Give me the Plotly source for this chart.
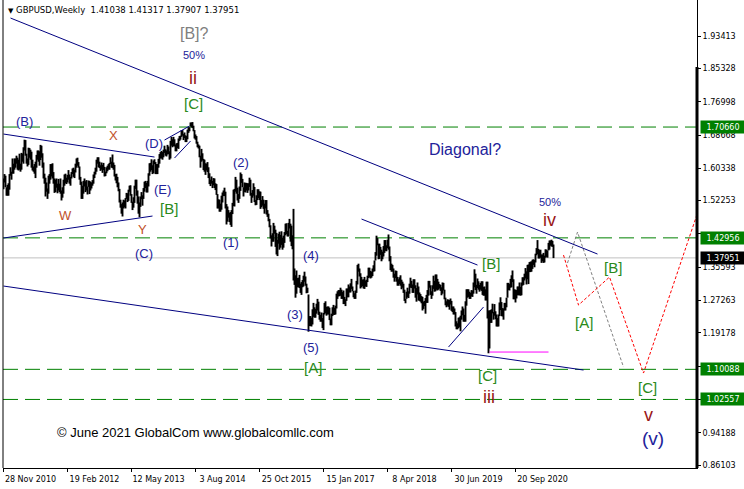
import pandas as pd
import plotly.graph_objects as go

START = pd.Timestamp("2010-11-28")


def wk(i):
    return START + pd.Timedelta(weeks=i)


# ---- weekly GBPUSD bars (low / high), one list per calendar year ----
lo_2010 = [1.551, 1.568, 1.556, 1.535, 1.535]
hi_2010 = [1.578, 1.589, 1.585, 1.556, 1.562]

lo_2011 = [1.535, 1.550, 1.585, 1.575, 1.590, 1.590, 1.600, 1.605, 1.615, 1.600, 1.598, 1.600, 1.595,
           1.600, 1.620, 1.615, 1.648, 1.635, 1.615, 1.608, 1.612, 1.630, 1.625, 1.605, 1.598, 1.595,
           1.590, 1.579, 1.605, 1.625, 1.620, 1.610, 1.624, 1.630, 1.605, 1.578, 1.565, 1.533, 1.545,
           1.527, 1.540, 1.565, 1.575, 1.583, 1.578, 1.565, 1.542, 1.544, 1.555, 1.541, 1.548, 1.544]
hi_2011 = [1.566, 1.589, 1.606, 1.595, 1.628, 1.615, 1.628, 1.628, 1.635, 1.630, 1.625, 1.640, 1.615,
           1.642, 1.640, 1.656, 1.675, 1.674, 1.640, 1.628, 1.655, 1.654, 1.650, 1.645, 1.625, 1.608,
           1.614, 1.620, 1.637, 1.648, 1.648, 1.646, 1.662, 1.660, 1.641, 1.618, 1.590, 1.580, 1.568,
           1.553, 1.585, 1.589, 1.614, 1.614, 1.616, 1.594, 1.578, 1.575, 1.578, 1.565, 1.577, 1.565]

lo_2012 = [1.540, 1.523, 1.530, 1.540, 1.560, 1.566, 1.564, 1.568, 1.575, 1.565, 1.560, 1.578, 1.589,
           1.582, 1.579, 1.593, 1.605, 1.610, 1.605, 1.575, 1.562, 1.527, 1.527, 1.540, 1.558, 1.544,
           1.548, 1.538, 1.557, 1.539, 1.548, 1.553, 1.560, 1.565, 1.579, 1.588, 1.595, 1.615, 1.606,
           1.604, 1.597, 1.600, 1.592, 1.599, 1.583, 1.584, 1.591, 1.596, 1.600, 1.600, 1.614, 1.605, 1.604]
hi_2012 = [1.578, 1.548, 1.556, 1.575, 1.588, 1.590, 1.580, 1.587, 1.599, 1.588, 1.582, 1.594, 1.603,
           1.605, 1.600, 1.615, 1.628, 1.630, 1.619, 1.608, 1.582, 1.570, 1.560, 1.572, 1.578, 1.571,
           1.574, 1.558, 1.573, 1.572, 1.570, 1.568, 1.574, 1.588, 1.595, 1.605, 1.625, 1.631, 1.631,
           1.620, 1.611, 1.618, 1.612, 1.617, 1.607, 1.595, 1.606, 1.610, 1.614, 1.617, 1.631, 1.620, 1.638]

lo_2013 = [1.600, 1.583, 1.573, 1.566, 1.556, 1.546, 1.518, 1.505, 1.490, 1.483, 1.503, 1.506, 1.503,
           1.527, 1.519, 1.522, 1.545, 1.535, 1.517, 1.499, 1.505, 1.517, 1.552, 1.535, 1.515, 1.490,
           1.481, 1.507, 1.526, 1.510, 1.527, 1.545, 1.554, 1.543, 1.543, 1.558, 1.585, 1.595, 1.599,
           1.589, 1.591, 1.614, 1.589, 1.589, 1.589, 1.605, 1.615, 1.628, 1.628, 1.625, 1.631, 1.642]
hi_2013 = [1.618, 1.612, 1.589, 1.590, 1.582, 1.568, 1.552, 1.525, 1.514, 1.518, 1.525, 1.523, 1.529,
           1.542, 1.541, 1.550, 1.560, 1.561, 1.539, 1.520, 1.531, 1.560, 1.575, 1.575, 1.548, 1.533,
           1.518, 1.533, 1.544, 1.536, 1.554, 1.570, 1.572, 1.567, 1.572, 1.591, 1.616, 1.617, 1.626,
           1.611, 1.623, 1.626, 1.619, 1.614, 1.614, 1.627, 1.639, 1.644, 1.647, 1.644, 1.650, 1.660]

lo_2014 = [1.635, 1.633, 1.638, 1.639, 1.625, 1.628, 1.660, 1.656, 1.659, 1.658, 1.646, 1.646, 1.654,
           1.652, 1.672, 1.675, 1.682, 1.685, 1.674, 1.679, 1.669, 1.669, 1.676, 1.692, 1.696, 1.708,
           1.706, 1.704, 1.696, 1.678, 1.675, 1.665, 1.656, 1.653, 1.631, 1.605, 1.620, 1.623, 1.599,
           1.595, 1.587, 1.598, 1.594, 1.579, 1.564, 1.559, 1.565, 1.554, 1.561, 1.554, 1.549, 1.537]
hi_2014 = [1.651, 1.648, 1.662, 1.658, 1.646, 1.672, 1.682, 1.676, 1.682, 1.676, 1.663, 1.666, 1.667,
           1.678, 1.684, 1.685, 1.699, 1.699, 1.689, 1.693, 1.686, 1.684, 1.700, 1.706, 1.706, 1.718,
           1.718, 1.719, 1.710, 1.699, 1.688, 1.684, 1.670, 1.663, 1.660, 1.635, 1.652, 1.641, 1.627,
           1.625, 1.616, 1.615, 1.619, 1.606, 1.591, 1.575, 1.583, 1.572, 1.579, 1.578, 1.566, 1.564]

lo_2015 = [1.503, 1.503, 1.495, 1.495, 1.500, 1.518, 1.534, 1.534, 1.503, 1.463, 1.470, 1.480, 1.469,
           1.462, 1.457, 1.489, 1.509, 1.508, 1.545, 1.540, 1.523, 1.517, 1.527, 1.547, 1.567, 1.556,
           1.533, 1.544, 1.543, 1.548, 1.542, 1.548, 1.557, 1.535, 1.517, 1.530, 1.535, 1.519, 1.511,
           1.512, 1.524, 1.529, 1.524, 1.502, 1.506, 1.510, 1.502, 1.490, 1.503, 1.488, 1.482, 1.471]
hi_2015 = [1.539, 1.526, 1.525, 1.515, 1.535, 1.543, 1.548, 1.555, 1.545, 1.514, 1.508, 1.499, 1.492,
           1.494, 1.499, 1.517, 1.550, 1.552, 1.582, 1.575, 1.555, 1.539, 1.558, 1.593, 1.589, 1.577,
           1.556, 1.568, 1.567, 1.567, 1.566, 1.566, 1.580, 1.575, 1.542, 1.549, 1.566, 1.557, 1.524,
           1.536, 1.551, 1.551, 1.546, 1.545, 1.524, 1.534, 1.525, 1.515, 1.524, 1.524, 1.499, 1.490]

lo_2016 = [1.456, 1.428, 1.408, 1.420, 1.420, 1.440, 1.407, 1.388, 1.384, 1.415, 1.400, 1.405, 1.412,
           1.400, 1.405, 1.417, 1.436, 1.439, 1.433, 1.433, 1.453, 1.420, 1.409, 1.401, 1.323, 1.312,
           1.280, 1.290, 1.306, 1.306, 1.304, 1.292, 1.287, 1.306, 1.308, 1.320, 1.310, 1.291, 1.292,
           1.195, 1.209, 1.209, 1.208, 1.213, 1.232, 1.230, 1.230, 1.240, 1.248, 1.237, 1.225, 1.220]
hi_2016 = [1.477, 1.461, 1.436, 1.441, 1.467, 1.460, 1.450, 1.442, 1.425, 1.440, 1.445, 1.437, 1.446,
           1.430, 1.435, 1.444, 1.465, 1.466, 1.447, 1.467, 1.477, 1.465, 1.460, 1.436, 1.502, 1.353,
           1.336, 1.348, 1.329, 1.330, 1.337, 1.315, 1.319, 1.324, 1.335, 1.345, 1.333, 1.315, 1.305,
           1.288, 1.234, 1.234, 1.230, 1.251, 1.267, 1.256, 1.252, 1.265, 1.277, 1.270, 1.245, 1.237]

lo_2017 = [1.220, 1.204, 1.199, 1.238, 1.241, 1.235, 1.238, 1.238, 1.224, 1.211, 1.211, 1.234, 1.237,
           1.237, 1.238, 1.253, 1.277, 1.283, 1.284, 1.285, 1.277, 1.277, 1.264, 1.264, 1.259, 1.272,
           1.281, 1.281, 1.293, 1.293, 1.302, 1.296, 1.281, 1.277, 1.277, 1.292, 1.313, 1.345, 1.333,
           1.303, 1.306, 1.309, 1.303, 1.302, 1.308, 1.307, 1.319, 1.329, 1.331, 1.328, 1.330, 1.334, 1.345]
hi_2017 = [1.243, 1.229, 1.242, 1.267, 1.271, 1.257, 1.258, 1.258, 1.255, 1.228, 1.240, 1.256, 1.262,
           1.255, 1.260, 1.290, 1.296, 1.299, 1.299, 1.305, 1.300, 1.294, 1.298, 1.282, 1.276, 1.303,
           1.303, 1.313, 1.308, 1.316, 1.327, 1.308, 1.297, 1.291, 1.298, 1.322, 1.362, 1.365, 1.353,
           1.341, 1.332, 1.325, 1.326, 1.332, 1.323, 1.325, 1.335, 1.355, 1.355, 1.347, 1.345, 1.353, 1.361]

lo_2018 = [1.346, 1.373, 1.385, 1.411, 1.376, 1.377, 1.387, 1.371, 1.376, 1.383, 1.392, 1.397, 1.396,
           1.404, 1.400, 1.371, 1.349, 1.345, 1.345, 1.330, 1.320, 1.329, 1.320, 1.310, 1.310, 1.314,
           1.310, 1.301, 1.305, 1.292, 1.272, 1.266, 1.277, 1.281, 1.279, 1.290, 1.305, 1.304, 1.292,
           1.292, 1.303, 1.280, 1.270, 1.288, 1.273, 1.272, 1.270, 1.266, 1.248, 1.252, 1.259, 1.240]
hi_2018 = [1.373, 1.394, 1.435, 1.429, 1.415, 1.415, 1.407, 1.400, 1.395, 1.409, 1.424, 1.424, 1.411,
           1.425, 1.438, 1.408, 1.384, 1.365, 1.362, 1.353, 1.340, 1.348, 1.347, 1.332, 1.326, 1.331,
           1.336, 1.325, 1.320, 1.315, 1.300, 1.277, 1.295, 1.305, 1.296, 1.315, 1.330, 1.322, 1.313,
           1.326, 1.326, 1.311, 1.304, 1.318, 1.308, 1.293, 1.289, 1.284, 1.282, 1.270, 1.272, 1.279]

lo_2019 = [1.267, 1.267, 1.285, 1.305, 1.287, 1.277, 1.285, 1.302, 1.295, 1.296, 1.300, 1.298, 1.300,
           1.303, 1.297, 1.286, 1.290, 1.298, 1.276, 1.261, 1.256, 1.260, 1.257, 1.250, 1.263, 1.247,
           1.244, 1.238, 1.238, 1.208, 1.201, 1.201, 1.204, 1.207, 1.196, 1.225, 1.236, 1.220, 1.220,
           1.220, 1.260, 1.280, 1.282, 1.277, 1.277, 1.283, 1.282, 1.290, 1.306, 1.299, 1.290, 1.304]
hi_2019 = [1.287, 1.299, 1.322, 1.322, 1.311, 1.296, 1.311, 1.335, 1.322, 1.338, 1.338, 1.327, 1.320,
           1.314, 1.312, 1.306, 1.318, 1.317, 1.300, 1.280, 1.271, 1.276, 1.275, 1.274, 1.278, 1.272,
           1.258, 1.258, 1.253, 1.244, 1.221, 1.216, 1.230, 1.231, 1.235, 1.248, 1.258, 1.253, 1.237,
           1.271, 1.301, 1.301, 1.301, 1.295, 1.292, 1.299, 1.298, 1.318, 1.351, 1.340, 1.312, 1.328]

lo_2020 = [1.300, 1.295, 1.300, 1.297, 1.287, 1.285, 1.285, 1.273, 1.273, 1.228, 1.141, 1.153, 1.217,
           1.217, 1.241, 1.225, 1.235, 1.226, 1.208, 1.208, 1.208, 1.234, 1.249, 1.234, 1.233, 1.225,
           1.248, 1.248, 1.256, 1.280, 1.299, 1.298, 1.305, 1.306, 1.319, 1.276, 1.276, 1.268, 1.278,
           1.286, 1.286, 1.286, 1.285, 1.286, 1.310, 1.312, 1.323, 1.328, 1.313, 1.326, 1.314, 1.344]
hi_2020 = [1.321, 1.312, 1.317, 1.321, 1.321, 1.307, 1.308, 1.301, 1.320, 1.320, 1.248, 1.248, 1.249,
           1.251, 1.265, 1.244, 1.264, 1.246, 1.238, 1.229, 1.238, 1.268, 1.281, 1.269, 1.254, 1.253,
           1.267, 1.267, 1.280, 1.317, 1.317, 1.314, 1.327, 1.336, 1.348, 1.326, 1.301, 1.300, 1.299,
           1.308, 1.308, 1.318, 1.307, 1.318, 1.331, 1.331, 1.340, 1.354, 1.346, 1.362, 1.363, 1.369]

lo_2021 = [1.344, 1.345, 1.352, 1.362, 1.356, 1.368, 1.386, 1.389, 1.378, 1.378, 1.380, 1.367,
           1.371, 1.367, 1.368, 1.380, 1.382, 1.380, 1.398, 1.400, 1.410, 1.408, 1.407, 1.379]
hi_2021 = [1.370, 1.371, 1.375, 1.376, 1.374, 1.390, 1.404, 1.424, 1.402, 1.399, 1.400, 1.388,
           1.388, 1.392, 1.385, 1.401, 1.400, 1.398, 1.417, 1.423, 1.423, 1.425, 1.422, 1.413]

# ---- key levels and axis ticks ----
levels = [1.70660, 1.42956, 1.10088, 1.02557]
last_close = 1.37951
header_ohlc = ["1.41038", "1.41317", "1.37907", "1.37951"]

ytick_vals = [1.93413, 1.85328, 1.76998, 1.68668, 1.60338, 1.52253, 1.43923,
              1.35593, 1.27263, 1.19178, 1.10848, 1.02518, 0.94188, 0.86103]
ytick_hidden = [1.43923, 1.10848, 1.02518]   # labels covered by the level boxes
xtick_dates = ["2010-11-28", "2012-02-19", "2013-05-12", "2014-08-03", "2015-10-25",
               "2017-01-15", "2018-04-08", "2019-06-30", "2020-09-20"]
xtick_labels = ["28 Nov 2010", "19 Feb 2012", "12 May 2013", "3 Aug 2014", "25 Oct 2015",
                "15 Jan 2017", "8 Apr 2018", "30 Jun 2019", "20 Sep 2020"]

lows = (lo_2010 + lo_2011 + lo_2012 + lo_2013 + lo_2014 + lo_2015 + lo_2016 + lo_2017
        + lo_2018 + lo_2019 + lo_2020 + lo_2021)
highs = (hi_2010 + hi_2011 + hi_2012 + hi_2013 + hi_2014 + hi_2015 + hi_2016 + hi_2017
         + hi_2018 + hi_2019 + hi_2020 + hi_2021)
n = min(len(lows), len(highs))
dates = [wk(i) for i in range(n)]

NAVY = "#000080"
GREEN = "#008000"
TXT_NAVY = "#22229A"
TXT_GREEN = "#2A8A1A"
TXT_RED = "#991515"
TXT_WXY = "#C0502A"
UI_FONT = "DejaVu Sans"
LBL_FONT = "Liberation Sans"

fig = go.Figure()

# price bars
bx, by = [], []
for d, l, h in zip(dates, lows[:n], highs[:n]):
    bx += [d, d, None]
    by += [l, h, None]
fig.add_trace(go.Scatter(x=bx, y=by, mode="lines", line=dict(color="black", width=1.9),
                         hoverinfo="skip", showlegend=False))

shapes = []
# current price line
shapes.append(dict(type="line", xref="paper", x0=0, x1=1, yref="y", y0=last_close, y1=last_close,
                   line=dict(color="#C0C0C0", width=1), layer="below"))
# dashed green levels
for v in levels:
    shapes.append(dict(type="line", xref="paper", x0=0, x1=1, yref="y", y0=v, y1=v,
                       line=dict(color=GREEN, width=1, dash="15px,7px"), layer="below"))

# trend lines (bar index, price)
trend = [
    (7, 1.9791, 594, 1.3891, NAVY),
    (0, 1.3091, 580, 1.0991, NAVY),
    (0, 1.6891, 151, 1.6316, NAVY),
    (0, 1.4291, 149, 1.4841, NAVY),
    (161, 1.6741, 186, 1.7091, NAVY),
    (171, 1.6291, 187, 1.6716, NAVY),
    (358, 1.4766, 474, 1.3616, NAVY),
    (445, 1.1566, 480, 1.2566, NAVY),
    (486, 1.1441, 545, 1.1441, "#FF00FF"),
]
for i0, p0, i1, p1, c in trend:
    shapes.append(dict(type="line", xref="x", yref="y", x0=wk(i0), y0=p0, x1=wk(i1), y1=p1,
                       line=dict(color=c, width=1)))

# frame pieces
shapes.append(dict(type="line", xref="paper", yref="paper", x0=0, x1=0, y0=0, y1=1,
                   line=dict(color="black", width=1)))
shapes.append(dict(type="line", xref="paper", yref="paper", x0=1, x1=1, y0=0, y1=0.857,
                   line=dict(color="black", width=3)))

# forecast paths
red_i = [560, 575, 606, 640, 694]
red_p = [1.3866, 1.2616, 1.3316, 1.0916, 1.4916]
gray_i = [564, 574, 620]
gray_p = [1.3666, 1.4441, 1.1066]
fig.add_trace(go.Scatter(x=[wk(i) for i in gray_i], y=gray_p, mode="lines",
                         line=dict(color="#808080", width=1, dash="3px,2px"),
                         hoverinfo="skip", showlegend=False))
fig.add_trace(go.Scatter(x=[wk(i) for i in red_i], y=red_p, mode="lines",
                         line=dict(color="#FF0000", width=1, dash="3px,2px"),
                         hoverinfo="skip", showlegend=False))

styles = {
    "gray": ("#808080", 16),
    "pct": (TXT_NAVY, 11),
    "roman": (TXT_RED, 18),
    "green": (TXT_GREEN, 15),
    "navy": (TXT_NAVY, 13),
    "wxy": (TXT_WXY, 13),
    "diag": (TXT_NAVY, 16),
    "big": (TXT_NAVY, 19),
}
labels = [
    ("[B]?", 191, 1.9416, "gray"),
    ("50%", 190, 1.8866, "pct"),
    ("ii", 189, 1.8291, "roman"),
    ("[C]", 190, 1.7666, "green"),
    ("(B)", 21, 1.7216, "navy"),
    ("X", 110, 1.6866, "wxy"),
    ("(D)", 150, 1.6666, "navy"),
    ("(2)", 237, 1.6191, "navy"),
    ("Diagonal?", 461, 1.6516, "diag"),
    ("W", 62, 1.4866, "wxy"),
    ("(E)", 159, 1.5516, "navy"),
    ("[B]", 165, 1.5041, "green"),
    ("Y", 139, 1.4516, "wxy"),
    ("(1)", 227, 1.4191, "navy"),
    ("(C)", 140, 1.3916, "navy"),
    ("(4)", 307, 1.3866, "navy"),
    ("50%", 546, 1.5191, "pct"),
    ("iv", 546, 1.4741, "roman"),
    ("[B]", 487, 1.3666, "green"),
    ("[B]", 609, 1.3566, "green"),
    ("(3)", 291, 1.2391, "navy"),
    ("[A]", 580, 1.2191, "green"),
    ("(5)", 307, 1.1566, "navy"),
    ("[A]", 309, 1.1066, "green"),
    ("[C]", 484, 1.0866, "green"),
    ("[C]", 644, 1.0566, "green"),
    ("iii", 485, 1.0316, "roman"),
    ("v", 645, 0.9866, "roman"),
    ("(v)", 649, 0.9291, "big"),
]
annotations = []
for t, i, p, k in labels:
    c, s = styles[k]
    annotations.append(dict(x=wk(i), y=p, xref="x", yref="y", text=t, showarrow=False,
                            xanchor="center", yanchor="middle",
                            font=dict(family=LBL_FONT, size=s, color=c)))

# right-side price boxes
for v, bg in zip(levels + [last_close], [GREEN, GREEN, GREEN, GREEN, "#000000"]):
    annotations.append(dict(xref="paper", x=1, xanchor="left", xshift=3, yref="y", y=v,
                            yanchor="middle", text=f"{v:.5f}", showarrow=False, bgcolor=bg,
                            width=44, height=12, align="center", borderpad=0,
                            font=dict(family=UI_FONT, size=8, color="white")))

# header
annotations.append(dict(xref="paper", yref="paper", x=0, y=1, xanchor="left", yanchor="top",
                        xshift=3, yshift=-3, showarrow=False,
                        text='<span style="font-size:7px">▼</span> GBPUSD,Weekly&nbsp;&nbsp;'
                             + " ".join(header_ohlc),
                        font=dict(family=UI_FONT, size=8.5, color="black")))
# copyright
annotations.append(dict(xref="paper", yref="paper", x=0.075, y=0.075, xanchor="left",
                        yanchor="middle", showarrow=False,
                        text="© June 2021 GlobalCom www.globalcomllc.com",
                        font=dict(family=LBL_FONT, size=13, color="black")))

fig.update_layout(
    width=744, height=489,
    margin=dict(l=3, r=47, t=0, b=21),
    paper_bgcolor="white", plot_bgcolor="white",
    showlegend=False,
    shapes=shapes,
    annotations=annotations,
    xaxis=dict(type="date", range=[wk(-0.5), wk(693.5)], showgrid=False, zeroline=False,
               showline=True, linecolor="black", linewidth=1,
               ticks="outside", ticklen=3, tickcolor="black",
               tickvals=xtick_dates, ticktext=xtick_labels, ticklabelshift=27,
               tickfont=dict(family=UI_FONT, size=8, color="black")),
    yaxis=dict(side="right", range=[0.8542, 2.0242], showgrid=False, zeroline=False,
               showline=True, linecolor="black", linewidth=1,
               ticks="outside", ticklen=3, tickcolor="black",
               tickvals=ytick_vals,
               ticktext=["" if v in ytick_hidden else f"{v:.5f}" for v in ytick_vals],
               tickfont=dict(family=UI_FONT, size=8, color="black")),
)

fig.write_html("out.html", config={"displayModeBar": False},
               post_script="document.body.style.margin='0';document.body.style.overflow='hidden';")
